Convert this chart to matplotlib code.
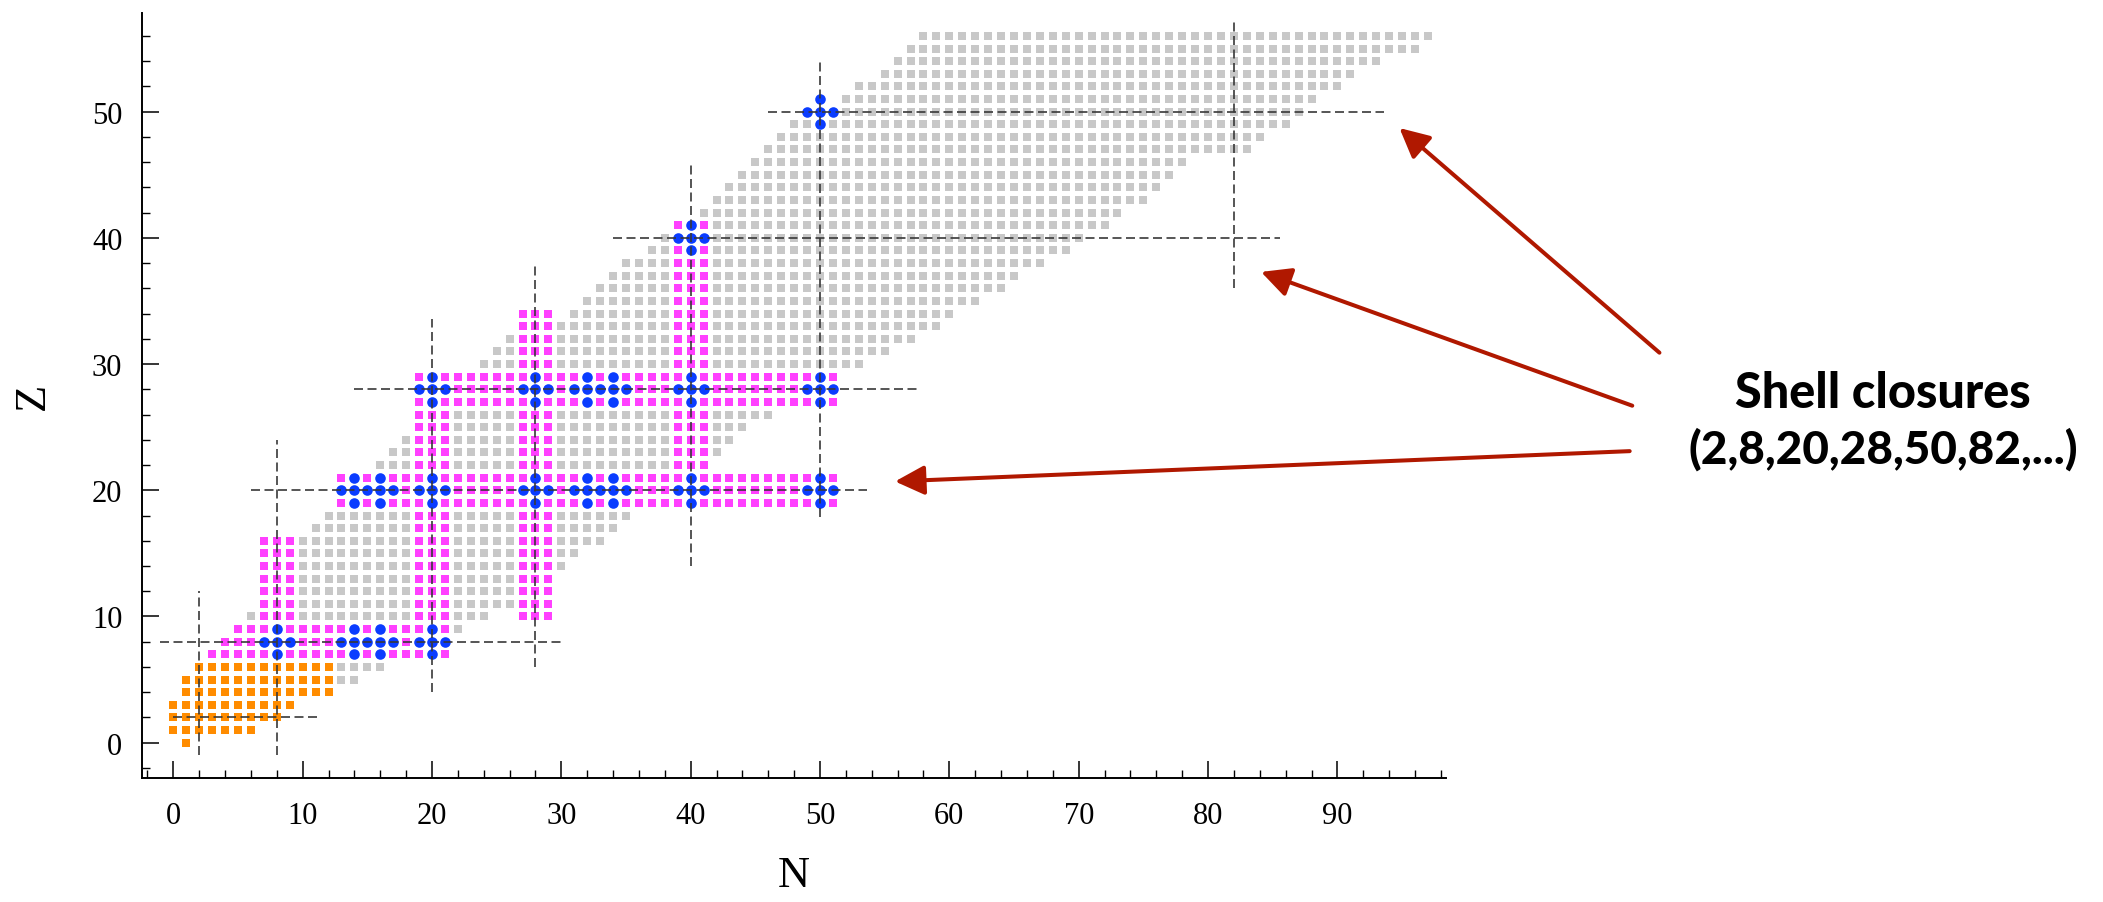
import matplotlib
matplotlib.use("Agg")
import matplotlib.pyplot as plt
from matplotlib.ticker import MultipleLocator

# ---------------- data ----------------
# light nuclei (orange): per Z row, N range
orange_Z = [0, 1, 2, 3, 4, 5, 6]
orange_Nmin = [1, 0, 0, 0, 1, 1, 2]
orange_Nmax = [1, 6, 8, 9, 12, 12, 12]

# known nuclei (gray): per Z row, N range
gray_Z = [5, 6, 9, 10, 11, 12, 13, 14, 15, 16, 17, 18, 22, 23, 24, 25, 26,
          30, 31, 32, 33, 34, 35, 36, 37, 38, 39, 40, 41, 42, 43, 44, 45, 46,
          47, 48, 49, 50, 51, 52, 53, 54, 55, 56]
gray_Nmin = [13, 13, 22, 6, 7, 7, 7, 7, 7, 7, 11, 12, 16, 17, 18, 19, 19,
             24, 25, 26, 30, 31, 32, 33, 34, 35, 37, 38, 39, 41, 42, 43, 44, 45,
             46, 47, 48, 49, 52, 53, 55, 56, 57, 58]
gray_Nmax = [14, 16, 22, 24, 26, 26, 26, 30, 31, 33, 34, 35, 41, 42, 43, 44, 46,
             53, 55, 57, 59, 60, 62, 64, 65, 67, 69, 70, 72, 73, 75, 76, 77, 78,
             83, 84, 86, 87, 88, 90, 91, 93, 96, 97]

# magenta bands: horizontal rows (Z, N range) and vertical columns (N centre +-1, Z range)
mag_row_Z = [7, 8, 9, 19, 20, 21, 27, 28, 29]
mag_row_Nmin = [3, 4, 5, 13, 13, 13, 19, 19, 19]
mag_row_Nmax = [21, 21, 21, 51, 51, 51, 51, 51, 51]
mag_col_N = [8, 20, 28, 40]
mag_col_Zmin = [7, 7, 10, 19]
mag_col_Zmax = [16, 29, 34, 41]

# blue "plus" markers centred on (sub)shell closures
plus_N = [8, 14, 16, 20, 14, 16, 20, 28, 32, 34, 40, 50, 20, 28, 32, 34, 40, 50, 40, 50]
plus_Z = [8, 8, 8, 8, 20, 20, 20, 20, 20, 20, 20, 20, 28, 28, 28, 28, 28, 28, 40, 50]

# dashed guide lines at magic numbers
hline_Z = [2, 8, 20, 28, 40, 50]
hline_N0 = [0, -1, 6, 14, 34, 46]
hline_N1 = [11.4, 30, 53.6, 57.6, 85.6, 93.6]
vline_N = [2, 8, 20, 28, 40, 50, 82]
vline_Z0 = [-1, -1, 4, 6, 14, 17.9, 36]
vline_Z1 = [12, 24, 33.6, 38, 46, 54, 57.2]

# annotation
label_lines = ["Shell closures", "(2,8,20,28,50,82,...)"]
arrow_tails = [(114.9, 30.9), (112.8, 26.7), (112.6, 23.1)]
arrow_tips = [(94.8, 48.7), (84.1, 37.3), (55.8, 20.7)]

xticks = [0, 10, 20, 30, 40, 50, 60, 70, 80, 90]
yticks = [0, 10, 20, 30, 40, 50]

# ---------------- build point sets ----------------
blue = set()
for n, z in zip(plus_N, plus_Z):
    for dn, dz in [(0, 0), (1, 0), (-1, 0), (0, 1), (0, -1)]:
        blue.add((n + dn, z + dz))

orange = set()
for z, a, b in zip(orange_Z, orange_Nmin, orange_Nmax):
    for n in range(a, b + 1):
        orange.add((n, z))

magenta = set()
for z, a, b in zip(mag_row_Z, mag_row_Nmin, mag_row_Nmax):
    for n in range(a, b + 1):
        magenta.add((n, z))
for c, a, b in zip(mag_col_N, mag_col_Zmin, mag_col_Zmax):
    for z in range(a, b + 1):
        for n in (c - 1, c, c + 1):
            magenta.add((n, z))
magenta -= blue

gray = set()
for z, a, b in zip(gray_Z, gray_Nmin, gray_Nmax):
    for n in range(a, b + 1):
        gray.add((n, z))
gray -= magenta | blue | orange

# ---------------- figure ----------------
plt.rcParams['font.family'] = ['Liberation Serif', 'DejaVu Serif']
fig = plt.figure(figsize=(21.03, 9.03), dpi=100)
ax = fig.add_axes([0.0674, 0.137, 0.6202, 0.8473])

sq = 37
def pts(s):
    s = sorted(s)
    return [p[0] for p in s], [p[1] for p in s]

gx, gy = pts(gray)
ax.scatter(gx, gy, s=sq, marker='s', color='#c8c8c8', linewidths=0, zorder=2)
ox, oy = pts(orange)
ax.scatter(ox, oy, s=sq, marker='s', color='#ff8c00', linewidths=0, zorder=2)
mx, my = pts(magenta)
ax.scatter(mx, my, s=sq, marker='s', color='#ff40ff', linewidths=0, zorder=2)
bx, by = pts(blue)
ax.scatter(bx, by, s=58, marker='o', color='#0a3cff', linewidths=0, zorder=3)

dash = (0, (5.4, 2.7))
for z, a, b in zip(hline_Z, hline_N0, hline_N1):
    ax.plot([a, b], [z, z], color='#383838', lw=1.2, linestyle=dash, zorder=4)
for n, a, b in zip(vline_N, vline_Z0, vline_Z1):
    ax.plot([n, n], [a, b], color='#383838', lw=1.2, linestyle=dash, zorder=4)

ax.set_xlim(-2.44, 98.4)
ax.set_ylim(-2.82, 57.8)
for s in ['top', 'right']:
    ax.spines[s].set_visible(False)
for s in ['left', 'bottom']:
    ax.spines[s].set_linewidth(1.4)
ax.set_xticks(xticks)
ax.set_yticks(yticks)
ax.xaxis.set_minor_locator(MultipleLocator(2))
ax.yaxis.set_minor_locator(MultipleLocator(2))
ax.tick_params(which='major', direction='in', length=12, width=1.1, labelsize=22, pad=16)
ax.tick_params(which='minor', direction='in', length=6, width=1.0)
ax.tick_params(axis='y', which='major', pad=14)
ax.set_xlabel('N', fontsize=32, labelpad=18)
ax.set_ylabel('Z', fontsize=32, labelpad=28)

for (tx, ty), (hx, hy) in zip(arrow_tails, arrow_tips):
    ax.annotate('', xy=(hx, hy), xytext=(tx, ty), xycoords='data', textcoords='data',
                annotation_clip=False,
                arrowprops=dict(arrowstyle='-|>,head_length=0.9,head_width=0.45',
                                mutation_scale=20, color='#b01800', lw=2.9,
                                shrinkA=0, shrinkB=0))

ax.text(132.2, 26.56, label_lines[0], ha='center', va='baseline', fontsize=35,
        fontweight='black', family=['Lato', 'DejaVu Sans'], clip_on=False)
ax.text(132.2, 22.2, label_lines[1], ha='center', va='baseline', fontsize=33,
        fontweight='black', family=['Lato', 'DejaVu Sans'], clip_on=False)

fig.savefig('out.png', dpi=100)
